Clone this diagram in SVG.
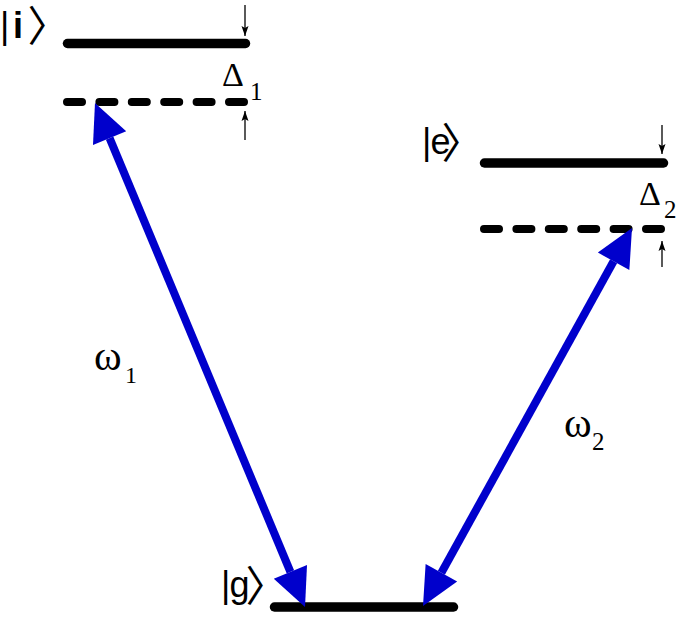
<svg xmlns="http://www.w3.org/2000/svg" width="685" height="617" viewBox="0 0 685 617">
<style>
.lvl{stroke:#000;stroke-width:9.5;stroke-linecap:round;fill:none}
.virt{stroke:#000;stroke-width:8;stroke-linecap:round;stroke-dasharray:15 17.4;fill:none}
.ket{font-family:"Liberation Sans","DejaVu Sans",sans-serif;font-size:36px;fill:#000}
.br{font-family:"Noto Sans CJK JP","DejaVu Sans",sans-serif;font-size:42px}
.sym{font-family:"Liberation Serif","DejaVu Serif",serif;fill:#000}
.det{stroke:#000;stroke-width:1.3;fill:none}
.beam{stroke:#0000CC;stroke-width:8;fill:none}
</style>
<defs>
<marker id="bhead" markerUnits="userSpaceOnUse" viewBox="0 -20 40 40" refX="0" refY="0" markerWidth="40" markerHeight="40" orient="auto-start-reverse" overflow="visible">
<path d="M0,-18 L38,0 L0,18 Z" fill="#0000CC"/>
</marker>
<marker id="shead" markerUnits="userSpaceOnUse" viewBox="0 -5 12 10" refX="10" refY="0" markerWidth="12" markerHeight="10" orient="auto" overflow="visible">
<path d="M0,-3.5 L10,0 L0,3.5 L2,0 Z" fill="#000"/>
</marker>
</defs>

<g id="level-i">
<line class="lvl" x1="67.5" y1="43.5" x2="245.5" y2="43.5"/>
<text class="ket" y="38"><tspan x="0">|</tspan><tspan x="13" font-weight="bold">i</tspan><tspan class="br" x="27.5" y="41">〉</tspan></text>
</g>
<g id="virtual-i">
<line class="virt" x1="67" y1="102" x2="246" y2="102"/>
</g>
<g id="level-e">
<line class="lvl" x1="484.5" y1="163" x2="663.5" y2="163"/>
<text class="ket" y="154"><tspan x="422">|</tspan><tspan x="430.5">e</tspan><tspan class="br" x="441.5" y="158">〉</tspan></text>
</g>
<g id="virtual-e">
<line class="virt" x1="484" y1="229" x2="663" y2="229"/>
</g>
<g id="level-g">
<line class="lvl" x1="274.5" y1="607" x2="453.5" y2="607"/>
<text class="ket" y="597"><tspan x="221">|</tspan><tspan x="229.5">g</tspan><tspan class="br" x="245.5" y="601">〉</tspan></text>
</g>

<g id="labels">
<text class="sym" x="222" y="86" font-size="34">Δ</text>
<text class="sym" x="250" y="100" font-size="25">1</text>
<text class="sym" x="639" y="205" font-size="34">Δ</text>
<text class="sym" x="664" y="218" font-size="25">2</text>
<text class="sym" x="94" y="370" font-size="42">ω</text>
<text class="sym" x="125" y="383" font-size="24">1</text>
<text class="sym" x="564" y="437" font-size="42">ω</text>
<text class="sym" x="592" y="450" font-size="25">2</text>
</g>

<g id="connectors">
<line class="det" x1="245" y1="5" x2="245" y2="36" marker-end="url(#shead)"/>
<line class="det" x1="245" y1="140" x2="245" y2="111" marker-end="url(#shead)"/>
<line class="det" x1="662" y1="125" x2="662" y2="154" marker-end="url(#shead)"/>
<line class="det" x1="662" y1="267" x2="662" y2="241" marker-end="url(#shead)"/>
<line class="beam" x1="109.6" y1="138.1" x2="290.4" y2="571.9" marker-start="url(#bhead)" marker-end="url(#bhead)"/>
<line class="beam" x1="441.4" y1="572.7" x2="613.6" y2="261.3" marker-start="url(#bhead)" marker-end="url(#bhead)"/>
</g>
</svg>
